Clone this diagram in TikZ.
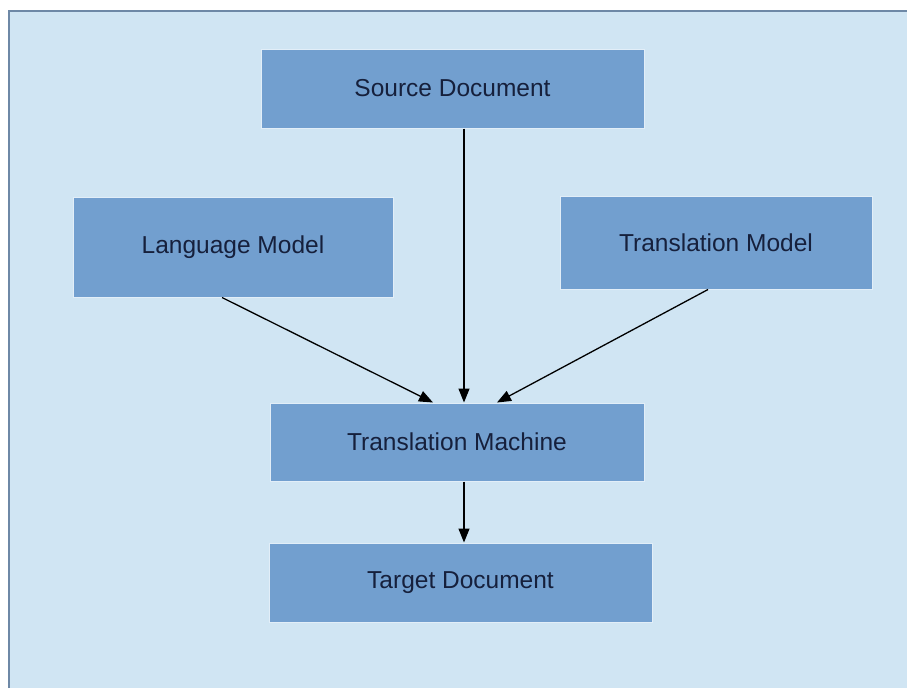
\documentclass[tikz,border=0pt]{standalone}
\usepackage{fontspec}
\setmainfont{Liberation Sans}
\usetikzlibrary{arrows.meta}
\definecolor{pagebg}{RGB}{208,229,243}
\definecolor{frameline}{RGB}{110,136,166}
\definecolor{boxfill}{RGB}{114,159,207}
\definecolor{boxedge}{RGB}{226,238,248}
\definecolor{labeltext}{RGB}{22,32,60}
\tikzset{
  stepbox/.style={rectangle, fill=boxfill, draw=boxedge, line width=1pt,
    inner sep=0pt, text=labeltext, font=\fontsize{24.5}{29}\selectfont},
  flow/.style={draw=black, line width=1.3pt,
    -{Triangle[length=14pt,width=11pt]}}
}
\begin{document}
\begin{tikzpicture}[x=1pt,y=1pt]
  \useasboundingbox (0,0) rectangle (907,-688);
  % canvas with its frame on the left and top
  \fill[white] (0,0) rectangle (907,-688);
  \fill[pagebg] (9,-11) rectangle (907,-688);
  \draw[frameline, line width=2.2pt] (9,-688) -- (9,-11) -- (907,-11);

  % boxes
  \node[stepbox, minimum width=383pt, minimum height=79pt] (src) at (452.5,-88.5) {Source Document};
  \node[stepbox, minimum width=320pt, minimum height=100pt] (lm) at (233,-247) {Language Model};
  \node[stepbox, minimum width=312pt, minimum height=93pt] (tm) at (716,-242.5) {Translation Model};
  \node[stepbox, minimum width=374pt, minimum height=78pt] (mach) at (457,-442) {Translation Machine};
  \node[stepbox, minimum width=383pt, minimum height=79pt] (tgt) at (460.5,-582.5) {Target Document};

  % connectors
  \draw[flow] ([xshift=11.5pt]src.south) -- ([xshift=7pt]mach.north);
  \draw[flow] ([xshift=-11pt]lm.south) -- ([xshift=-24pt]mach.north);
  \draw[flow] ([xshift=-8pt]tm.south) -- ([xshift=40pt]mach.north);
  \draw[flow] ([xshift=7pt]mach.south) -- ([xshift=3.5pt]tgt.north);
\end{tikzpicture}
\end{document}
